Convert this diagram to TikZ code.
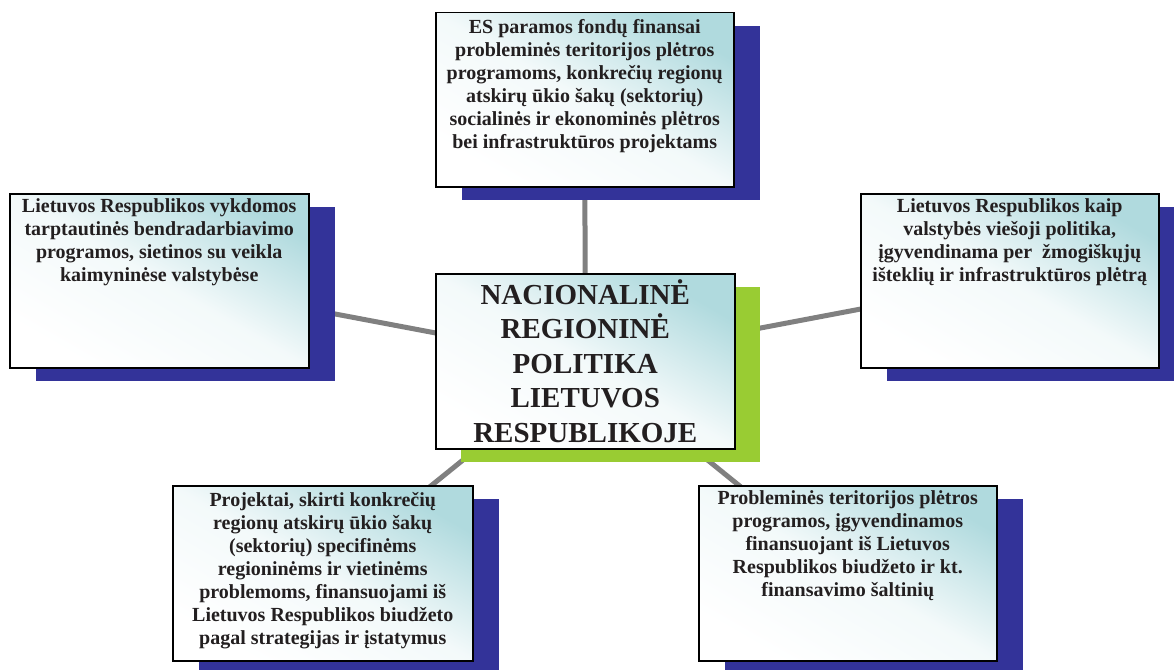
\documentclass[tikz,border=0pt]{standalone}
\usepackage{fontspec}
\setmainfont{Liberation Serif}
\usetikzlibrary{shadows,backgrounds}
\definecolor{navy}{RGB}{51,51,153}
\definecolor{lime}{RGB}{153,204,51}
\definecolor{tealpale}{RGB}{176,218,222}
\definecolor{ink}{RGB}{35,31,32}
\definecolor{linkgray}{RGB}{128,128,128}
\begin{document}
\begin{tikzpicture}[x=1pt,y=-1pt,
  box/.style={draw=black, line width=1.5pt, anchor=north west, inner sep=0pt,
    top color=tealpale, bottom color=white, middle color=tealpale!15!white, shading angle=-30},
  navyshadow/.style={general shadow={fill=navy, shadow xshift=26pt, shadow yshift=-13pt}},
  limeshadow/.style={general shadow={fill=lime, shadow xshift=25pt, shadow yshift=-13pt}},
  txt/.style={anchor=north, align=center, inner sep=0pt, text=ink,
    font=\fontsize{20}{23}\selectfont\bfseries},
  bigtxt/.style={anchor=north, align=center, inner sep=0pt, text=ink,
    font=\fontsize{29}{34.5}\selectfont\bfseries},
  link/.style={draw=linkgray, line width=5pt}
]
\useasboundingbox (0,0) rectangle (1174,669);

\node[box, navyshadow, minimum width=298pt, minimum height=174pt] (top) at (435,12) {};
\node[box, navyshadow, minimum width=299pt, minimum height=174pt] (left) at (9,193) {};
\node[box, navyshadow, minimum width=298pt, minimum height=174pt] (right) at (860,193) {};
\node[box, limeshadow, minimum width=299pt, minimum height=175pt] (center) at (435,273) {};
\node[box, navyshadow, minimum width=300pt, minimum height=175pt] (bl) at (172,485) {};
\node[box, navyshadow, minimum width=298pt, minimum height=175pt] (br) at (698,485) {};

\node[txt] (toptext) at ([yshift=-7pt]top.north) {ES paramos fondų finansai\\ probleminės teritorijos plėtros\\ programoms, konkrečių regionų\\ atskirų ūkio šakų (sektorių)\\ socialinės ir ekonominės plėtros\\ bei infrastruktūros projektams};
\node[txt] (lefttext) at ([yshift=-5pt]left.north) {Lietuvos Respublikos vykdomos\\ tarptautinės bendradarbiavimo\\ programos, sietinos su veikla\\ kaimyninėse valstybėse};
\node[txt] (righttext) at ([yshift=-5pt]right.north) {Lietuvos Respublikos kaip\\ valstybės viešoji politika,\\ įgyvendinama per\ \ žmogiškųjų\\ išteklių ir infrastruktūros plėtrą};
\node[bigtxt] (centertext) at ([yshift=-6pt]center.north) {NACIONALINĖ\\ REGIONINĖ\\ POLITIKA\\ LIETUVOS\\ RESPUBLIKOJE};
\node[txt] (bltext) at ([yshift=-7pt]bl.north) {Projektai, skirti konkrečių\\ regionų atskirų ūkio šakų\\ (sektorių) specifinėms\\ regioninėms ir vietinėms\\ problemoms, finansuojami iš\\ Lietuvos Respublikos biudžeto\\ pagal strategijas ir įstatymus};
\node[txt] (brtext) at ([yshift=-5pt]br.north) {Probleminės teritorijos plėtros\\ programos, įgyvendinamos\\ finansuojant iš Lietuvos\\ Respublikos biudžeto ir kt.\\ finansavimo šaltinių};

\begin{scope}[on background layer]
  \draw[link] (center.center) -- (top.center);
  \draw[link] (center.center) -- (left.center);
  \draw[link] (center.center) -- (right.center);
  \draw[link] (center.center) -- (bl.center);
  \draw[link] (center.center) -- (br.center);
\end{scope}
\end{tikzpicture}
\end{document}
